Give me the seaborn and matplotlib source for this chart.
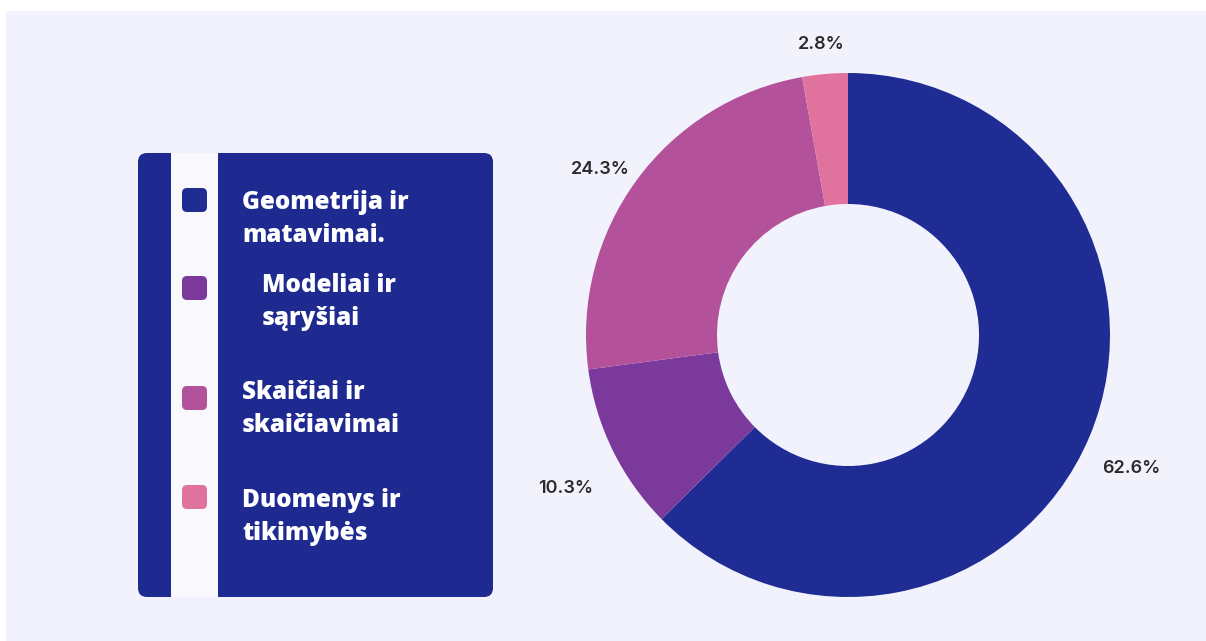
import numpy as np
import matplotlib
matplotlib.use("Agg")
import matplotlib.pyplot as plt
from matplotlib.patches import FancyBboxPatch, Rectangle
import seaborn as sns

# ---- data ----
categories = ["Geometrija ir\nmatavimai.", "Modeliai ir\nsąryšiai",
              "Skaičiai ir\nskaičiavimai", "Duomenys ir\ntikimybės"]
values = [62.6, 10.3, 24.3, 2.8]
colors = ["#1f2c93", "#7b3a9b", "#b3529b", "#df739d"]

# ---- style ----
sns.set_theme(style="white")
plt.rcParams["font.family"] = ["Open Sans", "DejaVu Sans"]
palette = sns.color_palette(colors)

W, H = 1206, 641
fig = plt.figure(figsize=(W / 100, H / 100), dpi=100, facecolor="white")

# background / legend layer in pixel coordinates
bg = fig.add_axes([0, 0, 1, 1])
bg.set_xlim(0, W)
bg.set_ylim(H, 0)
bg.axis("off")
bg.add_patch(Rectangle((6, 11), W - 6, H - 11, facecolor="#f2f2fd", edgecolor="none"))

# legend panel
bg.add_patch(FancyBboxPatch((138, 153), 355, 444, boxstyle="round,pad=0,rounding_size=9",
                            facecolor="#1e2a8f", edgecolor="none"))
bg.add_patch(Rectangle((171, 153), 47, 444, facecolor="#f8f8fd", edgecolor="none"))

item_y = [200, 288, 398, 497]
text_last_baseline = [242, 325, 432, 540]
label_indent = [0, 20, 0, 0]
for cat, col, yy, tb, ind in zip(categories, palette, item_y, text_last_baseline, label_indent):
    bg.add_patch(FancyBboxPatch((182, yy - 12), 25, 24, boxstyle="round,pad=0,rounding_size=5",
                                facecolor=col, edgecolor="none"))
    bg.text(242 + ind, tb, cat, color="white", fontsize=17.5, fontweight="heavy",
            va="baseline", ha="left", linespacing=1.4)

# donut
cx, cy, R = 848, 335, 262
hx, hy = 327.5, 300
ax = fig.add_axes([(cx - hx) / W, (H - cy - hy) / H, 2 * hx / W, 2 * hy / H])
wedges, _ = ax.pie(values, colors=palette, startangle=90, counterclock=False,
                   radius=1.0, wedgeprops=dict(width=0.5, edgecolor="none"))
ax.set_xlim(-hx / R, hx / R)
ax.set_ylim(-hy / R, hy / R)
ax.axis("off")

label_dist = [1.17, 1.20, 1.17, 1.17]
label_drop = 15 / R
for w, v, d in zip(wedges, values, label_dist):
    ang = np.deg2rad((w.theta1 + w.theta2) / 2)
    ax.text(d * np.cos(ang), d * np.sin(ang) - label_drop, f"{v:.1f}%", ha="center",
            va="center", fontsize=13, fontweight="semibold", color="#2b2b2b",
            family=["Inter", "DejaVu Sans"])

fig.savefig("out.png", dpi=100, facecolor="white")
